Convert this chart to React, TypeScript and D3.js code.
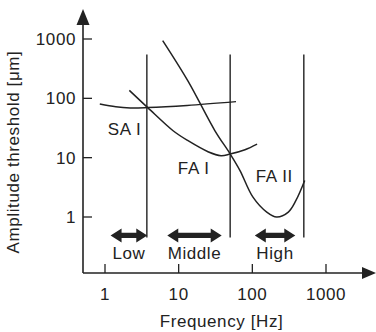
import React from "react";
import * as d3 from "d3";

// ---- data ----
const xTicks = [1, 10, 100, 1000];
const yTicks = [1, 10, 100, 1000];
const xTickLabels = ["1", "10", "100", "1000"];
const yTickLabels = ["1", "10", "100", "1000"];

// SA I threshold curve (Hz, µm)
const saFreq = [0.85, 1.4, 2.2, 3.8, 13, 60];
const saAmp = [80, 72, 69, 70, 76, 88];

// FA I threshold curve
const fa1Freq = [2.14, 3.83, 8.4, 13.4, 25, 37.6, 49.7, 79.5, 116];
const fa1Amp = [136, 69, 28.4, 19.3, 12.6, 10.8, 11.5, 13.6, 16.9];

// FA II (Pacinian) threshold curve
const fa2Freq = [6.07, 13.4, 31.1, 49.7, 68, 102, 157, 214, 308, 391, 514];
const fa2Amp = [940, 195, 28.4, 11.7, 6.07, 2.16, 1.21, 1.0, 1.21, 1.9, 4.12];

// band boundaries (Hz) and their vertical extent (µm)
const boundaries = [3.7, 50, 500];
const boundaryRange = [0.45, 550];

// frequency bands
const bandNames = ["Low", "Middle", "High"];
const bandStart = [1.19, 7.0, 108];
const bandEnd = [3.75, 38.4, 383];
const bandAmp = 0.49; // arrow level
const bandLabelAmp = 0.195;

// region labels
const regionNames = ["SA I", "FA I", "FA II"];
const regionFreq = [1.84, 16, 199];
const regionAmp = [24, 5.25, 3.94];

const W = 376;
const H = 332;
const ink = "#222";
const font = "'Liberation Sans', Arial, Helvetica, sans-serif";

export default function App() {
  const x = d3.scaleLog().domain([1, 1000]).range([105, 326]);
  const y = d3.scaleLog().domain([1, 1000]).range([217, 39]);
  const x0 = 83;
  const y0 = 273;

  const line = d3
    .line<[number, number]>()
    .x((d) => x(d[0]))
    .y((d) => y(d[1]))
    .curve(d3.curveCatmullRom.alpha(0.5));

  const sa = saFreq.map((f, i) => [f, saAmp[i]] as [number, number]);
  const fa1 = fa1Freq.map((f, i) => [f, fa1Amp[i]] as [number, number]);
  const fa2 = fa2Freq.map((f, i) => [f, fa2Amp[i]] as [number, number]);

  const dblArrow = (a: number, b: number, yy: number) => {
    const hl = 11; // head length
    const hw = 7; // head half height
    const sw = 2.7; // shaft half thickness
    return `M${a},${yy} L${a + hl},${yy - hw} L${a + hl},${yy - sw} L${b - hl},${yy - sw} L${b - hl},${yy - hw} L${b},${yy} L${b - hl},${yy + hw} L${b - hl},${yy + sw} L${a + hl},${yy + sw} L${a + hl},${yy + hw} Z`;
  };

  const textStyle: React.CSSProperties = {
    fontFamily: font,
    fontSize: 17,
    fill: ink,
    letterSpacing: 0.6,
  };

  return (
    <svg
      width={W}
      height={H}
      style={{ position: "absolute", left: 0, top: 0, background: "#fff" }}
    >
      {/* axes */}
      <line x1={x0} y1={y0} x2={364} y2={y0} stroke={ink} strokeWidth={1.6} />
      <path d={`M376,${y0} L362,${y0 - 6} L362,${y0 + 6} Z`} fill={ink} />
      <line x1={x0} y1={y0} x2={x0} y2={24} stroke={ink} strokeWidth={1.6} />
      <path d={`M${x0},9 L${x0 - 6.5},25 L${x0 + 6.5},25 Z`} fill={ink} />

      {/* x ticks */}
      {xTicks.map((t, i) => (
        <g key={"xt" + t}>
          <line x1={x(t)} x2={x(t)} y1={y0} y2={y0 - 9} stroke={ink} strokeWidth={1.3} />
          <text x={x(t)} y={300} textAnchor="middle" style={textStyle}>
            {xTickLabels[i]}
          </text>
        </g>
      ))}
      {/* y ticks */}
      {yTicks.map((t, i) => (
        <g key={"yt" + t}>
          <line x1={x0} x2={x0 + 9} y1={y(t)} y2={y(t)} stroke={ink} strokeWidth={1.3} />
          <text x={76} y={y(t) + 6} textAnchor="end" style={textStyle}>
            {yTickLabels[i]}
          </text>
        </g>
      ))}

      {/* axis titles */}
      <text x={221.5} y={327} textAnchor="middle" style={textStyle}>
        Frequency [Hz]
      </text>
      <text
        transform={`translate(19,152) rotate(-90)`}
        textAnchor="middle"
        style={textStyle}
      >
        Amplitude threshold [μm]
      </text>

      {/* band boundaries */}
      {boundaries.map((b) => (
        <line
          key={"b" + b}
          x1={x(b)}
          x2={x(b)}
          y1={y(boundaryRange[1])}
          y2={y(boundaryRange[0])}
          stroke={ink}
          strokeWidth={1.4}
        />
      ))}

      {/* curves */}
      <path d={line(sa) || ""} fill="none" stroke={ink} strokeWidth={1.5} />
      <path d={line(fa1) || ""} fill="none" stroke={ink} strokeWidth={1.5} />
      <path d={line(fa2) || ""} fill="none" stroke={ink} strokeWidth={1.5} />

      {/* region labels */}
      {regionNames.map((n, i) => (
        <text
          key={n}
          x={x(regionFreq[i])}
          y={y(regionAmp[i])}
          textAnchor="middle"
          style={textStyle}
        >
          {n}
        </text>
      ))}

      {/* band arrows */}
      {bandNames.map((n, i) => (
        <g key={n}>
          <path d={dblArrow(x(bandStart[i]), x(bandEnd[i]), y(bandAmp))} fill={ink} />
          <text
            x={(x(bandStart[i]) + x(bandEnd[i])) / 2}
            y={y(bandLabelAmp)}
            textAnchor="middle"
            style={textStyle}
          >
            {n}
          </text>
        </g>
      ))}
    </svg>
  );
}
